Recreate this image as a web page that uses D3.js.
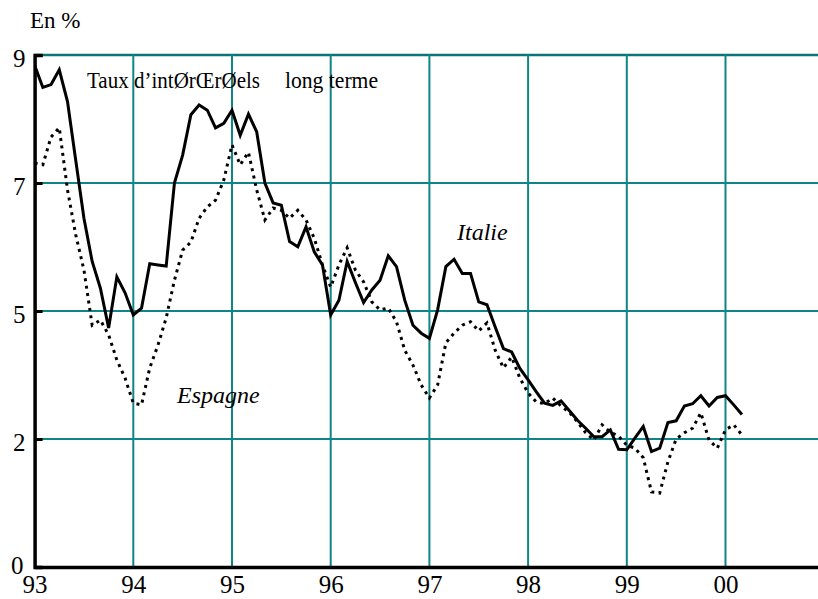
<!DOCTYPE html>
<html><head><meta charset="utf-8">
<script src="https://cdn.jsdelivr.net/npm/d3@7"></script>
<style>body{margin:0;background:#fff}svg{display:block}</style>
</head><body><svg id="c" width="818" height="599"></svg>
<script>
// Monthly data starting January 1993
const startYear = 93;
const italie = [8.82,8.43,8.48,8.74,8.18,7.15,6.13,5.37,4.90,4.20,
 5.10,4.82,4.43,4.55,5.33,5.31,5.29,6.75,7.24,7.95,
 8.12,8.03,7.72,7.80,8.03,7.59,7.96,7.65,6.75,6.40,
 6.36,5.72,5.63,5.98,5.54,5.31,4.43,4.69,5.37,5.00,
 4.65,4.87,5.04,5.47,5.28,4.69,4.25,4.11,4.02,4.52,
 5.28,5.41,5.16,5.16,4.66,4.61,4.22,3.84,3.78,3.49,
 3.29,3.08,2.88,2.84,2.92,2.75,2.58,2.44,2.29,2.29,
 2.41,2.07,2.06,2.27,2.47,2.03,2.09,2.54,2.57,2.83,
 2.87,3.01,2.83,2.98,3.01,2.85,2.68];
const espagne = [7.10,7.07,7.56,7.72,6.63,5.84,5.22,4.25,4.34,4.08,
 3.64,3.32,2.88,2.85,3.50,3.90,4.38,5.04,5.57,5.71,
 6.13,6.33,6.45,6.80,7.42,7.07,7.29,6.63,6.10,6.31,
 6.27,6.13,6.27,6.10,5.78,5.31,4.92,5.31,5.61,5.22,
 5.01,4.66,4.52,4.55,4.31,3.81,3.55,3.20,2.97,3.20,
 3.94,4.11,4.25,4.31,4.15,4.29,3.81,3.50,3.69,3.32,
 3.06,2.90,2.87,2.97,2.83,2.72,2.55,2.36,2.23,2.50,
 2.37,2.30,2.14,2.09,1.92,1.32,1.30,1.85,2.25,2.36,
 2.44,2.71,2.23,2.09,2.41,2.50,2.32];
const yTicks = [0, 2.25, 4.5, 6.75, 9];
const yTickLabels = ["0", "2", "5", "7", "9"];
const xTicks = [93, 94, 95, 96, 97, 98, 99, 100];
const xTickLabels = ["93", "94", "95", "96", "97", "98", "99", "00"];

const W = 818, H = 599;
const mLeft = 34.6, mTop = 55, mBottom = 567;
const svg = d3.select("#c");
const x = d3.scaleLinear().domain([93, 101]).range([mLeft, mLeft + 8 * 98.7]);
const y = d3.scaleLinear().domain([0, 9]).range([mBottom, mTop]);
const teal = "#108585";
const serif = "'Liberation Serif','Times New Roman',serif";

svg.append("defs").append("clipPath").attr("id", "clip")
  .append("rect").attr("x", mLeft).attr("y", mTop - 5).attr("width", W - mLeft).attr("height", mBottom - mTop + 5);

// gridlines
const g = svg.append("g");
g.selectAll("line.h").data(yTicks.filter(d => d > 0)).join("line")
  .attr("x1", mLeft).attr("x2", W).attr("y1", d => y(d)).attr("y2", d => y(d))
  .attr("stroke", d => d === 9 ? "#0e7373" : teal).attr("stroke-width", d => d === 9 ? 2.5 : 2);
g.selectAll("line.v").data(xTicks.filter(d => d > 93)).join("line")
  .attr("x1", d => x(d)).attr("x2", d => x(d)).attr("y1", mTop).attr("y2", mBottom)
  .attr("stroke", teal).attr("stroke-width", 2);

// lines
const line = d3.line().x((d, i) => x(startYear + i / 12)).y(d => y(d));
const lg = svg.append("g").attr("clip-path", "url(#clip)");
lg.append("path").datum(espagne).attr("d", line).attr("fill", "none")
  .attr("stroke", "#000").attr("stroke-width", 3).attr("stroke-dasharray", "3,4.5");
lg.append("path").datum(italie).attr("d", line).attr("fill", "none")
  .attr("stroke", "#000").attr("stroke-width", 3).attr("stroke-linejoin", "miter");

// axes
const ay = svg.append("g").attr("transform", `translate(${mLeft},0)`)
  .call(d3.axisLeft(y).tickValues(yTicks).tickFormat((d, i) => yTickLabels[i]).tickSize(-8).tickPadding(9));
ay.select(".domain").attr("stroke", "#000").attr("stroke-width", 3.5);
ay.selectAll(".tick line").attr("stroke", "#000").attr("stroke-width", 3);
ay.selectAll(".tick text").attr("font-family", serif).attr("font-size", 25).attr("fill", "#000")
  .attr("dy", d => d === 0 ? "0.25em" : "0.45em")
  .attr("x", d => d === 0 ? -11 : -9);

const ax = svg.append("g").attr("transform", `translate(0,${mBottom})`)
  .call(d3.axisBottom(x).tickValues(xTicks).tickFormat((d, i) => xTickLabels[i]).tickSize(0));
ax.select(".domain").attr("stroke", "#000").attr("stroke-width", 3.5);
ax.selectAll(".tick text").attr("font-family", serif).attr("font-size", 25).attr("fill", "#000")
  .attr("y", 26).attr("dy", 0);

// texts
svg.append("text").attr("x", 30).attr("y", 28).attr("font-family", serif).attr("font-size", 23).text("En %");
svg.append("text").attr("x", 87).attr("y", 88).attr("font-family", serif).attr("font-size", 24)
  .attr("textLength", 173).attr("lengthAdjust", "spacingAndGlyphs").text("Taux d’intØrŒrØels");
svg.append("text").attr("x", 285).attr("y", 88).attr("font-family", serif).attr("font-size", 24)
  .attr("textLength", 93).attr("lengthAdjust", "spacingAndGlyphs").text("long terme");
svg.append("text").attr("x", 457).attr("y", 240).attr("font-family", serif).attr("font-style", "italic")
  .attr("font-size", 24).text("Italie");
svg.append("text").attr("x", 177).attr("y", 403).attr("font-family", serif).attr("font-style", "italic")
  .attr("font-size", 24).text("Espagne");
</script></body></html>
